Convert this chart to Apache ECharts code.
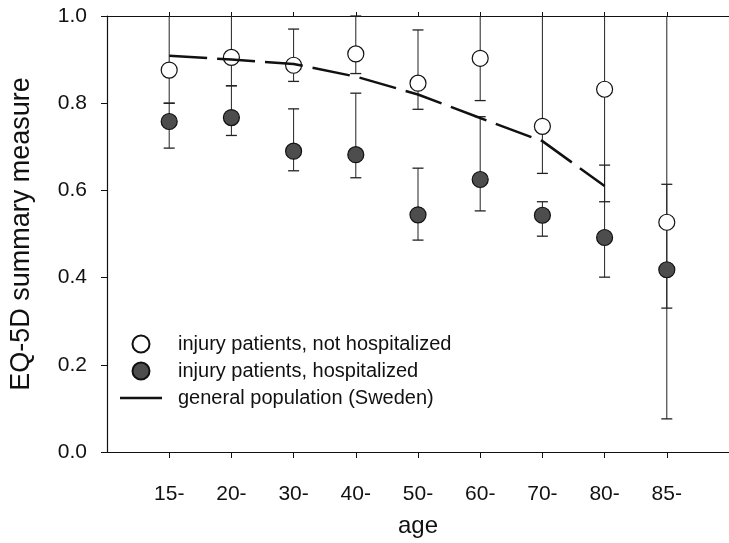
<!DOCTYPE html>
<html>
<head>
<meta charset="utf-8">
<script src="https://cdn.jsdelivr.net/npm/echarts@6/dist/echarts.min.js"></script>
<style>
html,body{margin:0;padding:0;background:#fff;}
#chart{width:729px;height:543px;}
</style>
</head>
<body>
<div id="chart"></div>
<script>
// ---- data ----
const categories = ['15-','20-','30-','40-','50-','60-','70-','80-','85-'];
const yTicks = [0.0, 0.2, 0.4, 0.6, 0.8, 1.0];

const notHospMean = [0.876, 0.905, 0.887, 0.913, 0.846, 0.903, 0.747, 0.832, 0.527];
const notHospLow  = [0.800, 0.840, 0.850, 0.868, 0.786, 0.806, 0.639, 0.574, 0.330];
const notHospHigh = [1.050, 1.050, 0.970, 1.000, 0.968, 1.050, 1.050, 1.050, 1.050];

const hospMean = [0.758, 0.767, 0.690, 0.682, 0.544, 0.625, 0.543, 0.492, 0.418];
const hospLow  = [0.697, 0.726, 0.645, 0.629, 0.486, 0.553, 0.495, 0.401, 0.076];
const hospHigh = [0.800, 0.840, 0.787, 0.823, 0.651, 0.769, 0.574, 0.658, 0.614];

const genPop = [0.909, 0.900, 0.890, 0.861, 0.820, 0.766, 0.713, 0.610];

const names = ['injury patients, not hospitalized', 'injury patients, hospitalized', 'general population (Sweden)'];

// ---- build ----
const pos = categories.map((c, i) => i + 1);
const FONT = 'Liberation Sans, Arial, Helvetica, sans-serif';
const YMAX = yTicks[yTicks.length - 1];

function errData(low, high) { return pos.map((x, i) => [x, low[i], high[i]]); }
function errRender(params, api) {
  const x = api.value(0), lo = api.value(1), hi = api.value(2);
  const top = api.coord([x, Math.min(hi, YMAX)]);
  const bot = api.coord([x, lo]);
  const cw = 5.5;
  const children = [
    {type: 'line', shape: {x1: top[0], y1: top[1], x2: bot[0], y2: bot[1]}, style: {stroke: '#222', lineWidth: 1}},
    {type: 'line', shape: {x1: bot[0] - cw, y1: bot[1], x2: bot[0] + cw, y2: bot[1]}, style: {stroke: '#222', lineWidth: 1.3}}
  ];
  if (hi <= YMAX) children.push({type: 'line', shape: {x1: top[0] - cw, y1: top[1], x2: top[0] + cw, y2: top[1]}, style: {stroke: '#222', lineWidth: 1.3}});
  return {type: 'group', children: children};
}

const chart = echarts.init(document.getElementById('chart'), null, {renderer: 'canvas'});
chart.setOption({
  animation: false,
  backgroundColor: '#fff',
  textStyle: {fontFamily: FONT},
  grid: {left: 102, top: 16, width: 628, height: 438},
  legend: {
    orient: 'vertical', left: 115, top: 329,
    itemWidth: 42, itemHeight: 17, itemGap: 7,
    textStyle: {fontFamily: FONT, fontSize: 20, color: '#111', padding: [0, 0, 0, 11]},
    data: [
      {name: names[0]},
      {name: names[1]},
      {name: names[2], icon: 'path://M0,0 H42 V2.5 H0 Z', itemStyle: {color: '#111'}}
    ]
  },
  xAxis: [{
    type: 'value', min: 0, max: 10, interval: 1, position: 'bottom',
    name: 'age', nameLocation: 'middle', nameGap: 62,
    nameTextStyle: {fontFamily: FONT, fontSize: 24, color: '#111'},
    axisLine: {show: true, onZero: false, lineStyle: {color: '#111', width: 1.2}},
    axisTick: {show: true, inside: false, length: 6, customValues: pos, lineStyle: {color: '#111'}},
    axisLabel: {show: true, margin: 32, customValues: pos, fontFamily: FONT, fontSize: 21, color: '#111',
      formatter: v => categories[Math.round(v) - 1] || ''},
    splitLine: {show: false}
  }, {
    type: 'value', min: 0, max: 10, interval: 1, position: 'top',
    axisLine: {show: true, onZero: false, lineStyle: {color: '#111', width: 1.2}},
    axisTick: {show: true, inside: false, length: 4, customValues: pos, lineStyle: {color: '#111'}},
    axisLabel: {show: false},
    splitLine: {show: false}
  }],
  yAxis: {
    type: 'value', min: 0, max: 1, interval: 0.2,
    name: 'EQ-5D summary measure', nameLocation: 'middle', nameGap: 72,
    nameTextStyle: {fontFamily: FONT, fontSize: 27, color: '#111'},
    axisLine: {show: true, onZero: false, lineStyle: {color: '#111', width: 1.2}},
    axisTick: {show: true, inside: false, length: 6, lineStyle: {color: '#111'}},
    axisLabel: {margin: 20, fontFamily: FONT, fontSize: 21, color: '#111', formatter: v => v.toFixed(1)},
    splitLine: {show: false}
  },
  series: [
    {type: 'custom', name: 'errNot', data: errData(notHospLow, notHospHigh), renderItem: errRender, z: 2, silent: true},
    {type: 'custom', name: 'errHosp', data: errData(hospLow, hospHigh), renderItem: errRender, z: 2, silent: true},
    {type: 'scatter', name: names[0], data: pos.map((x, i) => [x, notHospMean[i]]), symbol: 'circle', symbolSize: 16,
      itemStyle: {color: '#fff', borderColor: '#111', borderWidth: 1.2, opacity: 1}, z: 3},
    {type: 'scatter', name: names[1], data: pos.map((x, i) => [x, hospMean[i]]), symbol: 'circle', symbolSize: 16,
      itemStyle: {color: '#4d4d4d', borderColor: '#111', borderWidth: 1.2, opacity: 1}, z: 3},
    {type: 'line', name: names[2], data: genPop.map((v, i) => [pos[i], v]), symbol: 'none', smooth: false,
      lineStyle: {color: '#111', width: 2.5, type: [38, 10]}, itemStyle: {color: '#111'}, z: 4}
  ]
});
</script>
</body>
</html>
